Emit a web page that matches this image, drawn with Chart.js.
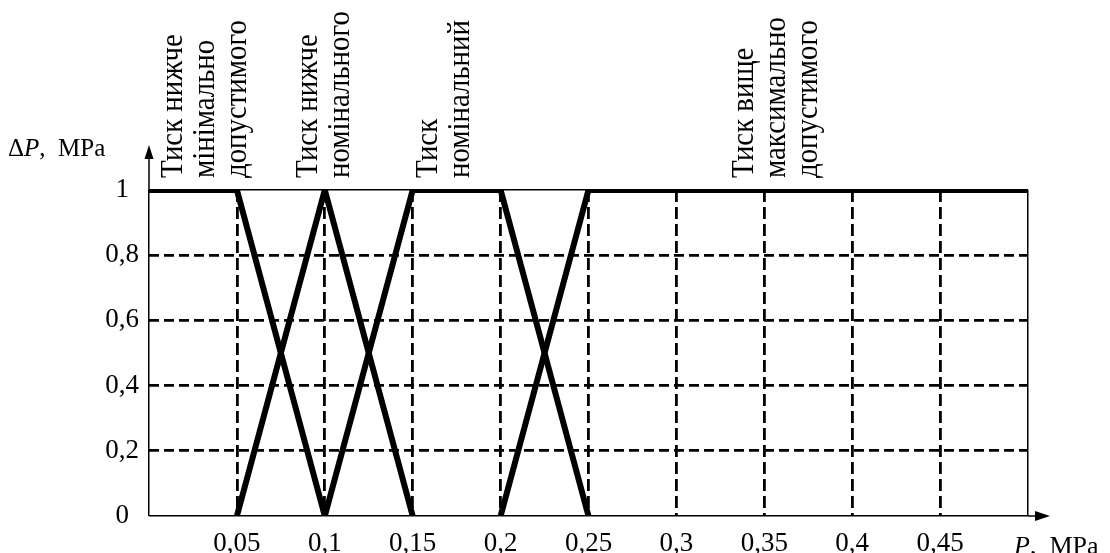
<!DOCTYPE html>
<html><head><meta charset="utf-8">
<script src="https://cdn.jsdelivr.net/npm/chart.js@4/dist/chart.umd.min.js"></script>
<style>html,body{margin:0;padding:0;background:#fff}</style>
</head><body>
<canvas id="c" width="1110" height="553"></canvas>
<script>
// ---- data ----
const seriesNames = ['Тиск нижче мінімально допустимого','Тиск нижче номінального','Тиск номінальний','Тиск вище максимально допустимого'];
const p1 = [0, 0.05, 0.1];          const mu1 = [1, 1, 0];
const p2 = [0.05, 0.1, 0.15];       const mu2 = [0, 1, 0];
const p3 = [0.1, 0.15, 0.2, 0.25];  const mu3 = [0, 1, 1, 0];
const p4 = [0.2, 0.25, 0.5];        const mu4 = [0, 1, 1];
const xTickLabels = ['', '0,05', '0,1', '0,15', '0,2', '0,25', '0,3', '0,35', '0,4', '0,45', ''];
const yTickLabels = ['0', '0,2', '0,4', '0,6', '0,8', '1'];
const groupLines = [
  ['Тиск нижче', 'мінімально', 'допустимого'],
  ['Тиск нижче', 'номінального'],
  ['Тиск', 'номінальний'],
  ['Тиск вище', 'максимально', 'допустимого']
];
const groupAnchorP = [0.0188, 0.0956, 0.1638, 0.3436];
const xMin = 0, xMax = 0.5, xStep = 0.05;
const yMin = 0, yMax = 1, yStep = 0.2;

const FONT = '"Liberation Serif", "Times New Roman", serif';
const toPts = (xs, ys) => xs.map((x, i) => ({x: x, y: ys[i]}));
const mkDs = (name, xs, ys) => ({
  label: name, data: toPts(xs, ys), borderColor: '#000', backgroundColor: '#000',
  borderWidth: 6, pointRadius: 0, tension: 0, borderCapStyle: 'round', borderJoinStyle: 'miter'
});
const near = (a, b) => Math.abs(a - b) < 1e-6;

const decor = {
  id: 'decor',
  afterDraw(chart) {
    const {ctx, chartArea: a, scales} = chart;
    ctx.save();
    ctx.strokeStyle = '#000'; ctx.fillStyle = '#000'; ctx.lineWidth = 1.5;
    // y axis extension + arrow
    ctx.beginPath(); ctx.moveTo(a.left, a.top); ctx.lineTo(a.left, a.top - 32); ctx.stroke();
    ctx.beginPath(); ctx.moveTo(a.left, a.top - 45); ctx.lineTo(a.left - 4.5, a.top - 31); ctx.lineTo(a.left + 4.5, a.top - 31); ctx.closePath(); ctx.fill();
    // x axis extension + arrow
    ctx.beginPath(); ctx.moveTo(a.right, a.bottom); ctx.lineTo(a.right + 10, a.bottom); ctx.stroke();
    ctx.beginPath(); ctx.moveTo(a.right + 22, a.bottom); ctx.lineTo(a.right + 7, a.bottom - 5); ctx.lineTo(a.right + 7, a.bottom + 5); ctx.closePath(); ctx.fill();
    // axis titles
    ctx.textBaseline = 'alphabetic'; ctx.textAlign = 'left';
    let x = 8, y = a.top - 34;
    ctx.font = '25px ' + FONT; ctx.fillText('Δ', x, y); x += ctx.measureText('Δ').width;
    ctx.font = 'italic 25px ' + FONT; ctx.fillText('P', x, y); x += ctx.measureText('P').width;
    ctx.font = '25px ' + FONT; ctx.fillText(',  MPa', x, y);
    x = a.right - 14; y = a.bottom + 38;
    ctx.font = 'italic 26px ' + FONT; ctx.fillText('P', x, y); x += ctx.measureText('P').width;
    ctx.font = '26px ' + FONT; ctx.fillText(',  MPa', x, y);
    // rotated group labels
    ctx.font = '28px ' + FONT;
    groupLines.forEach((lines, g) => {
      const bx = scales.x.getPixelForValue(groupAnchorP[g]);
      lines.forEach((t, k) => {
        ctx.save();
        ctx.translate(bx + k * 32, a.top - 12);
        ctx.rotate(-Math.PI / 2);
        ctx.scale(1.03, 1.15);
        ctx.fillText(t, 0, 0);
        ctx.restore();
      });
    });
    ctx.restore();
  }
};

new Chart(document.getElementById('c'), {
  type: 'line',
  data: { datasets: [mkDs(seriesNames[0], p1, mu1), mkDs(seriesNames[1], p2, mu2), mkDs(seriesNames[2], p3, mu3), mkDs(seriesNames[3], p4, mu4)] },
  options: {
    responsive: false, animation: false, devicePixelRatio: 1,
    layout: { padding: { top: 190, right: 82, left: 0, bottom: 0 } },
    plugins: { legend: { display: false }, tooltip: { enabled: false } },
    scales: {
      x: {
        type: 'linear', min: xMin, max: xMax,
        afterFit: s => { s.height = 37; },
        ticks: { stepSize: xStep, autoSkip: false, maxRotation: 0, padding: 12, color: '#000',
                 font: { family: FONT, size: 27 }, callback: (v, i) => xTickLabels[i] },
        grid: { color: '#000', drawTicks: false,
                lineWidth: c => (c.tick && (near(c.tick.value, xMin) || near(c.tick.value, xMax))) ? 1.5 : 2.8 },
        border: { display: false, dash: c => (c.tick && (near(c.tick.value, xMin) || near(c.tick.value, xMax))) ? [] : [12, 5] }
      },
      y: {
        type: 'linear', min: yMin, max: yMax,
        afterFit: s => { s.width = 149; },
        ticks: { stepSize: yStep, padding: 10, crossAlign: 'center', color: '#000',
                 font: { family: FONT, size: 27 }, callback: (v, i) => yTickLabels[i] },
        grid: { color: '#000', drawTicks: false,
                lineWidth: c => (c.tick && (near(c.tick.value, yMin) || near(c.tick.value, yMax))) ? 1.5 : 2.8 },
        border: { display: false, dash: c => (c.tick && (near(c.tick.value, yMin) || near(c.tick.value, yMax))) ? [] : [10, 5] }
      }
    }
  },
  plugins: [decor]
});
</script>
</body></html>
